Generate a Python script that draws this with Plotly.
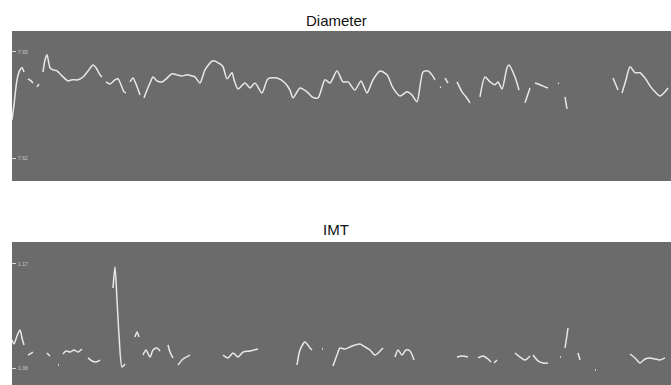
import plotly.graph_objects as go
from plotly.subplots import make_subplots

N = None
# Diameter series (frame index, value); None separates gaps
diam_t = [0, 2, 5, 8, 10, 12, N,
          16, 19, 21, N,
          25, 27, N,
          31, 33, 35, 38, 41, 45, 50, 56, 60, 66, 71, 76, 81, 84, 88, 90, N,
          94, 98, 103, 106, 109, 112, 114, N,
          118, 121, 124, 128, N,
          132, 135, 138, 141, 145, 150, 155, 160, 165, 170, 175, 180, 183, 188, 193, 201, 208, 211,
          215, 220, 222, 226, 233, 238, 243, 250, 256, 265, 273, 278, 281, 288, 295, 300, 306, 313,
          318, 325, 331, 336, 343, 349, 355, 361, 368, 375, 381, 388, 395, 400, 405, 411, 416, 420, 423, N,
          428, 429, N,
          433, 436, N,
          445, 450, 454, 458, N,
          468, 473, 478, 483, 486, 490, 495, 497, 503, 507, N,
          513, 518, N,
          523, 528, 533, 536, N,
          546, 547, N,
          553, 555, N,
          601, 606, N,
          610, 614, 618, 623, 628, 633, 638, 643, 648, 653, 656]
diam_v = [7.6308, 7.6350, 7.6421, 7.6449, 7.6455, 7.6443, N,
          7.6424, 7.6418, 7.6412, N,
          7.6401, 7.6409, N,
          7.6443, 7.6477, 7.6492, 7.6455, 7.6449, 7.6446, 7.6432, 7.6418, 7.6421, 7.6421, 7.6429,
          7.6446, 7.6463, 7.6455, 7.6435, 7.6429, N,
          7.6415, 7.6409, 7.6421, 7.6424, 7.6407, 7.6387, 7.6384, N,
          7.6415, 7.6426, 7.6409, 7.6378, N,
          7.6370, 7.6392, 7.6412, 7.6429, 7.6418, 7.6415, 7.6426, 7.6438, 7.6435, 7.6432, 7.6435,
          7.6432, 7.6429, 7.6412, 7.6449, 7.6475, 7.6466, 7.6458,
          7.6424, 7.6441, 7.6421, 7.6395, 7.6412, 7.6398, 7.6412, 7.6384, 7.6424, 7.6426, 7.6412,
          7.6392, 7.6370, 7.6398, 7.6387, 7.6373, 7.6370, 7.6421,
          7.6412, 7.6446, 7.6415, 7.6415, 7.6392, 7.6418, 7.6384, 7.6421, 7.6446, 7.6435, 7.6398,
          7.6375, 7.6387, 7.6378, 7.6359, 7.6443, 7.6446, 7.6435, 7.6421, N,
          7.6401, 7.6399, N,
          7.6426, 7.6412, N,
          7.6415, 7.6387, 7.6373, 7.6356, N,
          7.6373, 7.6429, 7.6415, 7.6407, 7.6415, 7.6395, 7.6455, 7.6463, 7.6429, 7.6392, N,
          7.6356, 7.6398, N,
          7.6412, 7.6407, 7.6401, 7.6398, N,
          7.6412, 7.6410, N,
          7.6373, 7.6339, N,
          7.6426, 7.6392, N,
          7.6384, 7.6421, 7.6458, 7.6441, 7.6441, 7.6426, 7.6404, 7.6387, 7.6375, 7.6387, 7.6398]

# IMT series
imt_t = [0, 2, 5, 8, 10, 12, N,
         16, 21, N,
         35, 38, N,
         46, 47, N,
         51, 54, 58, 62, 66, 70, N,
         76, 80, 84, 88, N,
         101, 103, 105, 107, 110, 113, N,
         123, 125, 127, N,
         131, 134, 138, 141, 145, 148, N,
         156, 158, 161, N,
         166, 171, 178, N,
         211, 216, 221, 226, 231, 238, 246, N,
         285, 288, 293, 298, 300, N,
         310, 311, N,
         321, 325, 328, 333, 338, 343, 348, 353, 358, 363, 371, N,
         383, 386, 390, 394, 398, 402, N,
         445, 450, 456, N,
         466, 471, 476, 479, N,
         482, 485, N,
         503, 508, 513, 518, N,
         521, 526, 531, 536, N,
         548, 549, N,
         553, 555, 556, N,
         566, 568, N,
         583, 584, N,
         618, 623, 628, 633, 638, 643, 648, 653]
imt_v = [1.1042, 1.1008, 1.1077, 1.1129, 1.1060, 1.0999, N,
         1.0912, 1.0938, N,
         1.0930, 1.0904, N,
         1.0826, 1.0826, N,
         1.0921, 1.0947, 1.0938, 1.0956, 1.0938, 1.0964, N,
         1.0887, 1.0861, 1.0852, 1.0869, N,
         1.1492, 1.1674, 1.1388, 1.1085, 1.0809, 1.0835, N,
         1.1068, 1.1111, 1.1068, N,
         1.0912, 1.0956, 1.0895, 1.0956, 1.0973, 1.0947, N,
         1.0999, 1.0938, 1.0887, N,
         1.0826, 1.0878, 1.0912, N,
         1.0912, 1.0887, 1.0930, 1.0895, 1.0938, 1.0947, 1.0964, N,
         1.0826, 1.0956, 1.1025, 1.0973, 1.0956, N,
         1.0964, 1.0964, N,
         1.0817, 1.0912, 1.0973, 1.0964, 1.0982, 1.0999, 1.1008, 1.0982, 1.0956, 1.0912, 1.0973, N,
         1.0895, 1.0956, 1.0912, 1.0956, 1.0947, 1.0869, N,
         1.0895, 1.0904, 1.0895, N,
         1.0887, 1.0904, 1.0878, 1.0852, N,
         1.0843, 1.0869, N,
         1.0930, 1.0895, 1.0869, 1.0904, N,
         1.0912, 1.0861, 1.0843, 1.0843, N,
         1.0895, 1.0895, N,
         1.0973, 1.1085, 1.1146, N,
         1.0930, 1.0869, N,
         1.0783, 1.0783, N,
         1.0921, 1.0887, 1.0843, 1.0878, 1.0887, 1.0878, 1.0869, 1.0887]

diam_ticks = [7.62, 7.65]
imt_ticks = [1.08, 1.17]
titles = ["Diameter", "IMT"]

fig = make_subplots(rows=2, cols=1)
line = dict(color="#e8e8e8", width=1.5, shape="spline", smoothing=0.7)
fig.add_trace(go.Scatter(x=diam_t, y=diam_v, mode="lines", line=line,
                         connectgaps=False, hoverinfo="skip"), row=1, col=1)
fig.add_trace(go.Scatter(x=imt_t, y=imt_v, mode="lines", line=line,
                         connectgaps=False, hoverinfo="skip"), row=2, col=1)

bg = "#6b6b6b"
xcommon = dict(range=[0, 659], showgrid=False, zeroline=False, showticklabels=False,
               ticks="", showline=False)
fig.update_layout(
    width=671, height=385,
    margin=dict(l=12, r=0, t=31, b=0),
    paper_bgcolor="white", plot_bgcolor=bg,
    showlegend=False,
    font=dict(family="Liberation Sans, Arial, sans-serif"),
    xaxis=dict(domain=[0, 1], **xcommon),
    xaxis2=dict(domain=[0, 1], **xcommon),
    yaxis=dict(domain=[0.5763, 1], range=[7.6135, 7.6559], tickvals=diam_ticks,
               ticks="inside", ticklen=4, tickcolor="#dddddd", ticklabelposition="inside",
               tickfont=dict(size=5, color="#cccccc"), showgrid=False, zeroline=False,
               tickformat=".2f"),
    yaxis2=dict(domain=[0, 0.4040], range=[1.0653, 1.189], tickvals=imt_ticks,
                ticks="inside", ticklen=4, tickcolor="#dddddd", ticklabelposition="inside",
                tickfont=dict(size=5, color="#cccccc"), showgrid=False, zeroline=False,
                tickformat=".2f"),
    annotations=[
        dict(text=titles[0], x=0.4917, y=1.031, xref="paper", yref="paper",
             xanchor="center", yanchor="middle", showarrow=False,
             font=dict(size=15, color="#111111")),
        dict(text=titles[1], x=0.4917, y=0.4379, xref="paper", yref="paper",
             xanchor="center", yanchor="middle", showarrow=False,
             font=dict(size=15, color="#111111")),
    ],
)

fig.write_html(
    "out.html",
    config={"displayModeBar": False},
    post_script="document.body.style.margin='0';document.body.style.overflow='hidden';",
)
